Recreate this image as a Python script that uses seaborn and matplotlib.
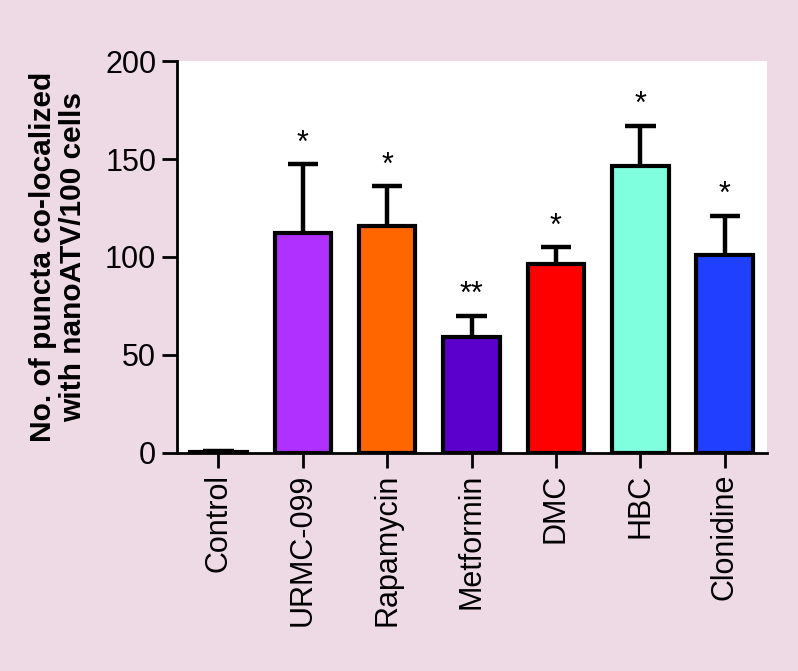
import numpy as np
import pandas as pd
import matplotlib
matplotlib.use("Agg")
import matplotlib.pyplot as plt
import seaborn as sns

treatments = ["Control", "URMC-099", "Rapamycin", "Metformin", "DMC", "HBC", "Clonidine"]
puncta = [0.5, 112, 116, 59, 96.5, 146.5, 101]
sem = [0.5, 35.5, 20, 11, 8.5, 20.5, 20]
stars = ["", "*", "*", "**", "*", "*", "*"]
colors = ["#FFFFFF", "#B030FF", "#FF6600", "#5B00CC", "#FF0000", "#80FFDF", "#2040FF"]

bg = "#EEDAE4"

sns.set_theme(style="ticks")
plt.rcParams["font.family"] = ["Liberation Sans", "DejaVu Sans"]

df = pd.DataFrame({"treatment": treatments, "puncta": puncta})

fig = plt.figure(figsize=(7.98, 6.71), dpi=100, facecolor=bg)
ax = fig.add_axes([0.222, 0.325, 0.739, 0.584])
ax.set_facecolor("white")

sns.barplot(data=df, x="treatment", y="puncta", hue="treatment",
            palette=colors, saturation=1, legend=False, width=0.67,
            edgecolor="black", linewidth=3, ax=ax, zorder=3)

# upper-only error bars with a cap
x = np.arange(len(treatments))
tops = np.array(puncta) + np.array(sem)
ax.vlines(x, puncta, tops, color="black", linewidth=3.2, zorder=2)
ax.hlines(tops, x - 0.18, x + 0.18, color="black", linewidth=3.2, zorder=2)

for i, (t, s) in enumerate(zip(tops, stars)):
    if s:
        ax.annotate(s, xy=(i, t), xytext=(0, 9), textcoords="offset points",
                    ha="center", va="baseline", fontsize=22, color="black")

ax.set_xlim(-0.49, 6.5)
ax.set_ylim(0, 200)
ax.set_yticks([0, 50, 100, 150, 200])
ax.set_xlabel("")
ax.set_ylabel("No. of puncta co-localized\nwith nanoATV/100 cells",
              fontsize=21.5, fontweight="bold", labelpad=13, linespacing=1.1,
              color="black")
ax.tick_params(axis="both", labelsize=22, width=2, length=11, color="black",
               labelcolor="black", pad=4)
ax.tick_params(axis="x", labelrotation=90)

sns.despine(ax=ax)
for side in ["left", "bottom"]:
    ax.spines[side].set_linewidth(2)
    ax.spines[side].set_color("black")

fig.savefig("out.png", dpi=100, facecolor=bg)
